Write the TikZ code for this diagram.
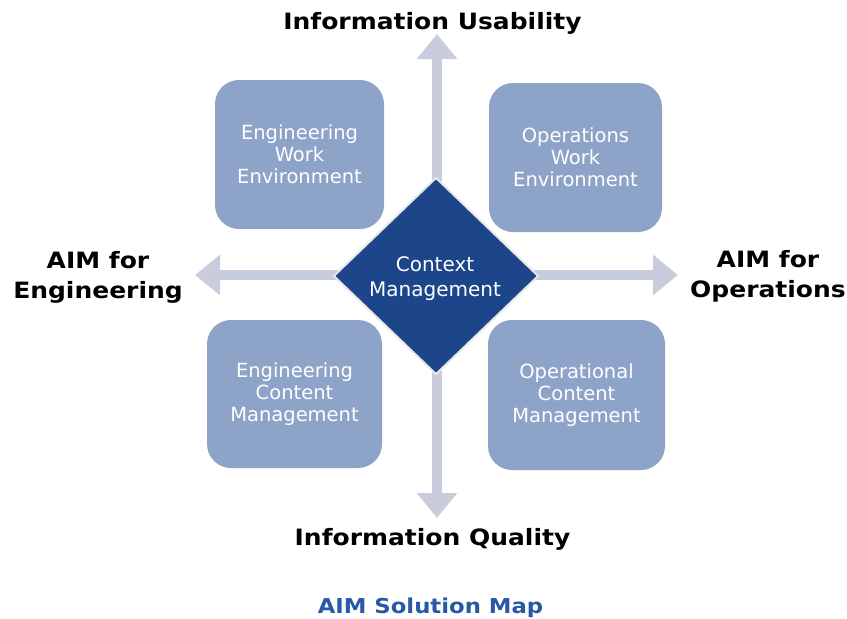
\documentclass[tikz,border=0pt]{standalone}
\usepackage{graphicx}
\usepackage{fontspec}
\setmainfont{DejaVu Sans}
\usetikzlibrary{shapes.geometric,arrows.meta}
\definecolor{arrowgray}{RGB}{201,204,220}
\definecolor{boxblue}{RGB}{141,163,199}
\definecolor{diamondblue}{RGB}{29,69,137}
\definecolor{titleblue}{RGB}{40,88,168}
\newcommand\widen[1]{\scalebox{1.11}[1]{#1}}
\tikzset{
  bigarrow/.style={draw=arrowgray, line width=10pt, -{Triangle[length=25pt,width=39pt]}},
  quad/.style={rectangle, rounded corners=24pt, fill=boxblue, text=white, align=center,
    font=\fontsize{19.5}{22}\selectfont, inner sep=0pt},
  axislabel/.style={font=\fontsize{22.5}{30}\selectfont\bfseries, align=center, text=black},
}
\begin{document}
\begin{tikzpicture}[x=1pt,y=-1pt]
\useasboundingbox (0,0) rectangle (847,619);
% axes
\coordinate (ctr) at (437,275);
\coordinate (upTip) at (437,34);
\coordinate (downTip) at (437,518);
\coordinate (leftTip) at (195,275);
\coordinate (rightTip) at (678,275);
\draw[bigarrow] (ctr) -- (upTip);
\draw[bigarrow] (ctr) -- (downTip);
\draw[bigarrow] (ctr) -- (leftTip);
\draw[bigarrow] (ctr) -- (rightTip);
% quadrant boxes
\node[quad, minimum width=169pt, minimum height=149pt] (ewe) at (299.5,154.5) {Engineering\\Work\\Environment};
\node[quad, minimum width=173pt, minimum height=149pt] (owe) at (575.5,157.5) {Operations\\Work\\Environment};
\node[quad, minimum width=175pt, minimum height=148pt] (ecm) at (294.5,394) {Engineering\\Content\\Management};
\node[quad, minimum width=177pt, minimum height=150pt] (ocm) at (576.5,395) {Operational\\Content\\Management};
% centre
\node[diamond, fill=diamondblue, draw=white!82!gray, line width=2pt, minimum width=205pt,
  minimum height=197pt, inner sep=0pt] (cm) at (436,276) {};
\node[text=white, align=center, font=\fontsize{20}{25}\selectfont, inner sep=0pt]
  (cmtext) at (435,279) {Context\\Management};
% labels
\node[axislabel, anchor=base] (iu) at (432.5,29) {\widen{Information Usability}};
\node[axislabel, anchor=base] (iq) at (432.5,545) {\widen{Information Quality}};
\node[axislabel] (ae) at (98,277) {\widen{AIM for}\\\widen{Engineering}};
\node[axislabel] (ao) at (768,276) {\widen{AIM for}\\\widen{Operations}};
\node[font=\fontsize{20.5}{24}\selectfont\bfseries, text=titleblue, anchor=base] (title) at (430.5,613) {\widen{AIM Solution Map}};
\end{tikzpicture}
\end{document}
